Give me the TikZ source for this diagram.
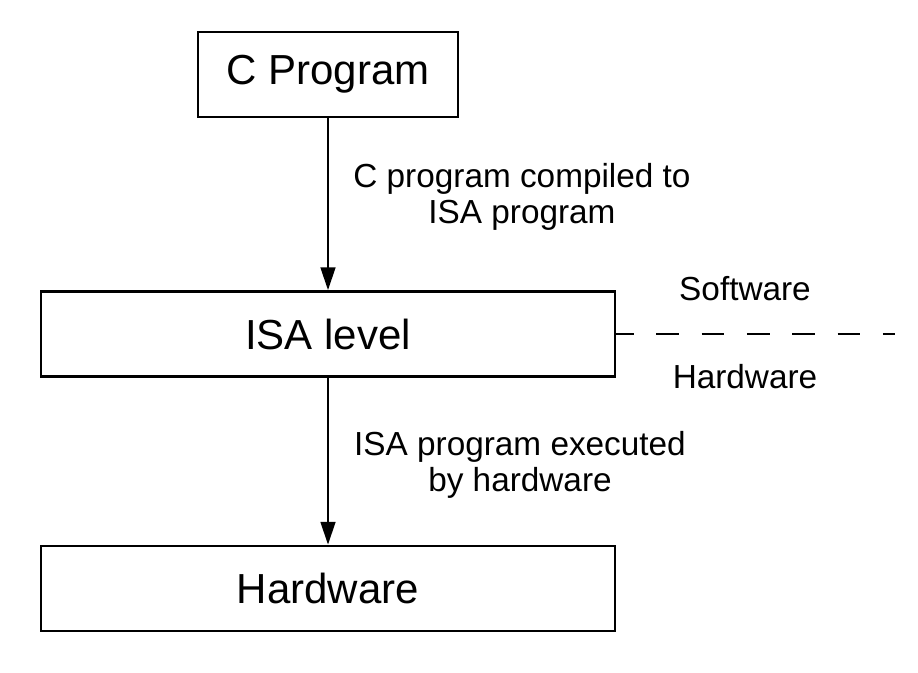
\documentclass[tikz,border=0pt]{standalone}
\usepackage{fontspec}
\setmainfont{Liberation Sans}
\usetikzlibrary{arrows.meta}

\begin{document}
\begin{tikzpicture}[x=0.75pt,y=0.75pt,yscale=-1,xscale=1,
    level/.style={draw, line width=1.8pt, inner sep=0pt, minimum width=#1, minimum height=64pt, font=\fontsize{31.5}{38}\selectfont},
    note/.style={align=center, inner sep=0pt, font=\fontsize{25}{27}\selectfont},
    flow/.style={line width=1.8pt, -{Triangle[length=17pt,width=11pt]}}]
        \useasboundingbox (0,0) rectangle (918,672);

        % Boxes
        \node[level=195pt] (cprog) at (328,74.5) {C Program};
        \node[level=430.5pt] (isa) at (328,334) {ISA level};
        \node[level=430.5pt] (hw) at (328,588.5) {Hardware};

        % Arrows
        \draw[flow] (cprog) -- (isa);
        \draw[flow] (isa) -- (hw);

        % Text Nodes
        \node[note] (compiled) at (522,197) {C program compiled to\\ISA program};
        \node[note] (executed) at (520,465) {ISA program executed\\by hardware};

        % Software / hardware divide
        \coordinate (divend) at (895,334);
        \draw[line width=1.8pt, dash pattern=on 17pt off 17pt, dash phase=4pt] (isa.east) -- (divend);
        \node[note] (swside) at (745,289) {Software};
        \node[note] (hwside) at (745,377) {Hardware};

\end{tikzpicture}
\end{document}
